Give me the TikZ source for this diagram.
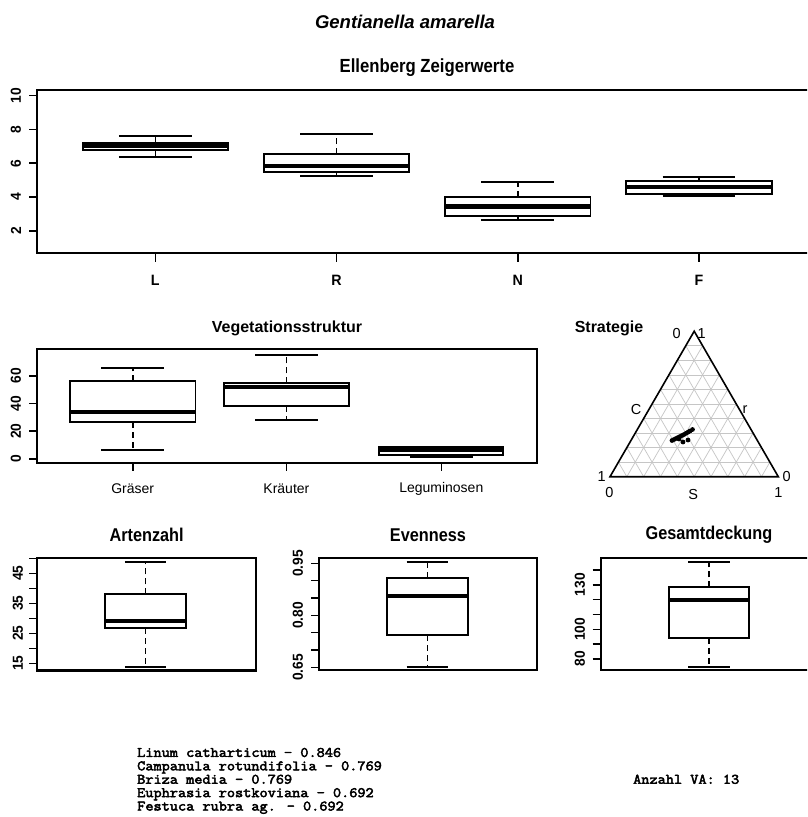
\documentclass[tikz,border=0pt]{standalone}
\usepackage{fontspec}
\setmainfont{Liberation Sans}
\newfontfamily\narrowf{Liberation Sans}[FakeStretch=0.88]
\newfontfamily\tickf{Liberation Sans}[FakeStretch=0.95]
\newfontfamily\monof{Latin Modern Mono}[FakeBold=3.2, FakeStretch=1.1]
\usetikzlibrary{calc}
\tikzset{
  frame/.style={line width=2.1pt},
  boxl/.style={line width=1.9pt, fill=white},
  medl/.style={line width=4.2pt},
  whisk/.style={line width=1.6pt, dash pattern=on 6pt off 4pt},
  capl/.style={line width=1.9pt},
  tickl/.style={line width=1.6pt},
  ttitle/.style={font=\narrowf\bfseries\fontsize{19}{22}\selectfont},
  btitle/.style={font=\narrowf\bfseries\fontsize{18.5}{22}\selectfont},
  mtitle/.style={font=\bfseries\fontsize{16}{19}\selectfont},
  ylab/.style={font=\tickf\bfseries\fontsize{14.5}{16}\selectfont, rotate=90, inner sep=0pt},
  xlabb/.style={font=\tickf\bfseries\fontsize{15}{17}\selectfont, inner sep=0pt},
  xlab/.style={font=\fontsize{14}{16}\selectfont, inner sep=0pt},
  tlab/.style={font=\fontsize{14.5}{16}\selectfont, inner sep=0pt},
  gridl/.style={gray!45, line width=0.7pt},
  mono/.style={font=\monof\fontsize{14.4}{13.4}\selectfont, inner sep=0pt, align=left},
  pt/.style={fill=black, draw=none},
}
% boxplot: #1 cx, #2 half box, #3 half cap, #4 lo, #5 q1, #6 med, #7 q3, #8 hi
\newcommand{\bxp}[8]{%
  \draw[whisk] (#1,{\ya-\ys*(#7)}) -- (#1,{\ya-\ys*(#8)});
  \draw[whisk] (#1,{\ya-\ys*(#5)}) -- (#1,{\ya-\ys*(#4)});
  \draw[capl] ({#1-#3},{\ya-\ys*(#8)}) -- ({#1+#3},{\ya-\ys*(#8)});
  \draw[capl] ({#1-#3},{\ya-\ys*(#4)}) -- ({#1+#3},{\ya-\ys*(#4)});
  \draw[boxl] ({#1-#2},{\ya-\ys*(#5)}) rectangle ({#1+#2},{\ya-\ys*(#7)});
  \draw[medl] ({#1-#2},{\ya-\ys*(#6)}) -- ({#1+#2},{\ya-\ys*(#6)});
}
\begin{document}
\begin{tikzpicture}[x=1pt,y=-1pt]
\useasboundingbox (0,0) rectangle (807,817);
\clip (0,0) rectangle (807,817);
\fill[white] (0,0) rectangle (807,817);

% main title
\node[font=\bfseries\itshape\fontsize{18.5}{22}\selectfont] (maintitle) at (405,22) {Gentianella amarella};

% ---------------- Ellenberg ----------------
\node[ttitle] (t1) at (427,68) {Ellenberg Zeigerwerte};
\def\ya{264.9}\def\ys{16.95}
\bxp{155.3}{72.7}{36.4}{6.37}{6.80}{7.00}{7.17}{7.63}
\bxp{336.5}{72.7}{36.4}{5.24}{5.46}{5.84}{6.53}{7.70}
\bxp{517.8}{72.7}{36.4}{2.64}{2.88}{3.45}{4.01}{4.87}
\bxp{699.0}{72.7}{36.4}{4.06}{4.18}{4.58}{4.97}{5.19}
\draw[frame] (820,90) -- (37.3,90) -- (37.3,253.3) -- (820,253.3);
\foreach \v in {2,4,...,10} {
  \draw[tickl] (29.3,{\ya-\ys*\v}) -- (37.3,{\ya-\ys*\v});
  \node[ylab] (y1\v) at (16,{\ya-\ys*\v}) {\v};
}
\draw[tickl] (37.3,{\ya-\ys*2}) -- (37.3,{\ya-\ys*10});
\foreach \c/\l in {155.3/L,336.5/R,517.8/N,699.0/F} {
  \draw[tickl] (\c,253.3) -- (\c,262);
  \node[xlabb] (x1\l) at (\c,280) {\l};
}

% ---------------- Vegetationsstruktur ----------------
\node[mtitle] (t2) at (287,328.3) {Vegetationsstruktur};
\def\ya{458.7}\def\ys{1.383}
\bxp{132.7}{62.8}{31.4}{6.3}{26.3}{33.8}{56.0}{65.4}
\bxp{286.4}{62.8}{31.4}{28.0}{37.9}{52.0}{54.5}{75.2}
\bxp{441.3}{62.0}{31.4}{1.0}{2.4}{6.3}{8.7}{8.7}
\draw[frame] (37.3,349.3) rectangle (536.7,463);
\foreach \v in {0,20,40,60} {
  \draw[tickl] (29.3,{\ya-\ys*\v}) -- (37.3,{\ya-\ys*\v});
  \node[ylab] (y2\v) at (16,{\ya-\ys*\v}) {\v};
}
\foreach \c/\l/\n in {132.7/Gräser/a,286.4/Kräuter/b,441.3/Leguminosen/c} {
  \draw[tickl] (\c,463) -- (\c,471);
  \node[xlab] (x2\n) at (\c,489) {\l};
}

% ---------------- Strategie (ternary) ----------------
\node[mtitle] (t3) at (609,328.3) {Strategie};
\coordinate (A) at (694.2,331.2);
\coordinate (BL) at (610,476.7);
\coordinate (BR) at (778.3,476.7);
\foreach \q [evaluate=\q as \r using 1-\q] in {0.1,0.2,0.3,0.4,0.5,0.6,0.7,0.8,0.9} {
  \draw[gridl] ($(A)!\q!(BL)$) -- ($(A)!\q!(BR)$);
  \draw[gridl] ($(BL)!\q!(BR)$) -- ($(BR)!\r!(A)$);
  \draw[gridl] ($(BL)!\q!(BR)$) -- ($(BL)!\q!(A)$);
}
\draw[line width=1.6pt, line join=miter] (A) -- (BL) -- (BR) -- cycle;
\foreach \px/\py in {672/440.5,674/439.5,676/438.5,678/437.5,680/436.5,682/435.5,684/434.5,686/433.3,688/432.2,690/431,692.5/429.5,683/442,688/440,679/439}
  \fill[pt] (\px,\py) circle (2.4);
\node[tlab] (c0a) at (676.7,333.3) {0};
\node[tlab] (c1a) at (701.7,333.3) {1};
\node[tlab] (cC) at (636,409.3) {C};
\node[tlab] (cr) at (745,409.3) {r};
\node[tlab] (c1b) at (601.7,476.7) {1};
\node[tlab] (c0b) at (786.7,476.7) {0};
\node[tlab] (c0c) at (609.3,492.7) {0};
\node[tlab] (cS) at (693.3,495) {S};
\node[tlab] (c1c) at (778.3,492.7) {1};

% ---------------- Artenzahl ----------------
\node[btitle] (t4) at (146.6,535) {Artenzahl};
\def\ya{708.3}\def\ys{3}
\bxp{145.3}{40.3}{20.5}{13.9}{26.7}{29.1}{38.0}{48.7}
\draw[frame] (37.3,558.3) rectangle (256,670.5);
\draw[tickl] (37.3,{\ya-\ys*15}) -- (37.3,{\ya-\ys*50});
\foreach \v in {15,20,...,50} \draw[tickl] (29.3,{\ya-\ys*\v}) -- (37.3,{\ya-\ys*\v});
\foreach \v in {15,25,35,45} \node[ylab] (y4\v) at (18,{\ya-\ys*\v}) {\v};

% ---------------- Evenness ----------------
\node[btitle] (t5) at (428,535) {Evenness};
\def\ya{892.7}\def\ys{346.7}
\bxp{427.5}{40.8}{20.8}{0.652}{0.743}{0.856}{0.908}{0.953}
\draw[frame] (319.3,558.3) rectangle (536.7,670);
\draw[tickl] (319.3,{\ya-\ys*0.65}) -- (319.3,{\ya-\ys*0.95});
\foreach \v in {0.65,0.70,0.75,0.80,0.85,0.90,0.95} \draw[tickl] (311.3,{\ya-\ys*\v}) -- (319.3,{\ya-\ys*\v});
\foreach \v/\n in {0.65/a,0.80/b,0.95/c} \node[ylab] (y5\n) at (298,{\ya-\ys*\v}) {\v};

% ---------------- Gesamtdeckung ----------------
\node[btitle] (t6) at (709,535) {Gesamtdeckung};
\def\ya{777.6}\def\ys{1.483}
\bxp{709}{40}{21}{74.8}{94.4}{119.8}{128.3}{145.2}
\draw[frame] (820,558.3) -- (600.7,558.3) -- (600.7,670) -- (820,670);
\draw[tickl] (600.7,{\ya-\ys*80}) -- (600.7,{\ya-\ys*140});
\foreach \v in {80,90,...,140} \draw[tickl] (592.7,{\ya-\ys*\v}) -- (600.7,{\ya-\ys*\v});
\foreach \v in {80,100,130} \node[ylab] (y6\v) at (580,{\ya-\ys*\v}) {\v};

% ---------------- text ----------------
\node[mono, anchor=base west] (species) at (137,810.5) {Linum catharticum - 0.846\\Campanula rotundifolia - 0.769\\Briza media - 0.769\\Euphrasia rostkoviana - 0.692\\Festuca rubra ag. - 0.692};
\node[mono, anchor=base west] (va) at (633,783.7) {Anzahl VA: 13};
\end{tikzpicture}
\end{document}
